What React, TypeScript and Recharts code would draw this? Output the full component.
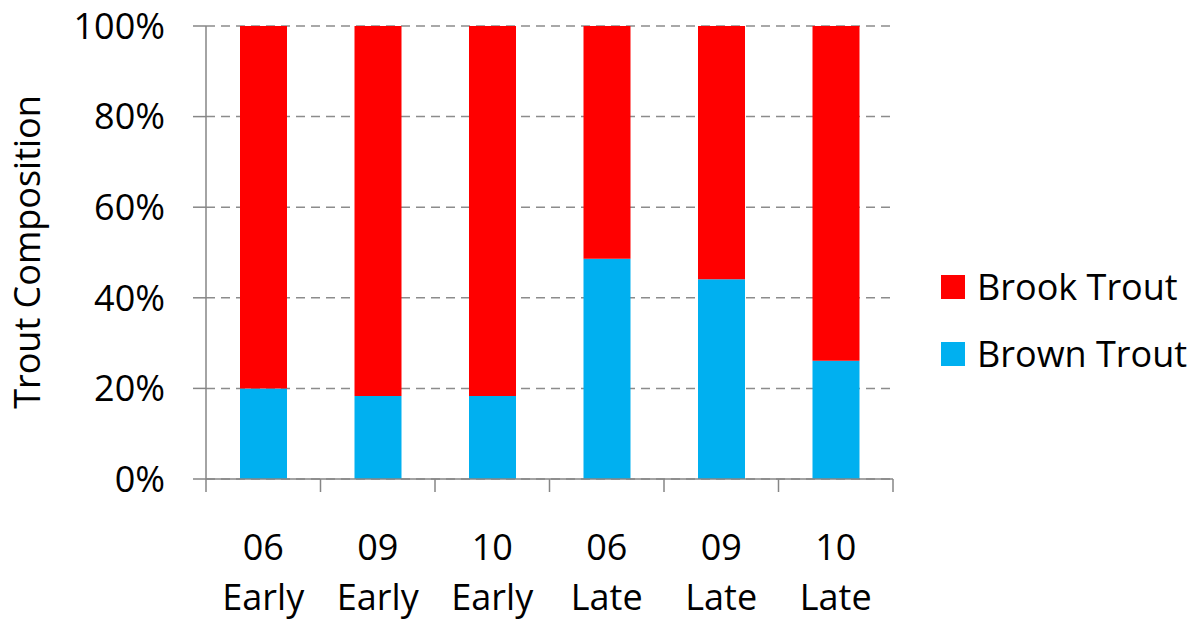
import React from 'react';
import { BarChart, Bar, XAxis, YAxis, CartesianGrid } from 'recharts';

const years = ['06', '09', '10', '06', '09', '10'];
const seasons = ['Early', 'Early', 'Early', 'Late', 'Late', 'Late'];
const brownTrout = [20, 18.3, 18.3, 48.6, 44.1, 26.1];
const brookTrout = brownTrout.map((v) => 100 - v);
const yTicks = [0, 20, 40, 60, 80, 100];

const series = [
  { key: 'brook', name: 'Brook Trout', color: '#FF0000' },
  { key: 'brown', name: 'Brown Trout', color: '#00B0F0' },
];

const WIDTH = 1203;
const HEIGHT = 621;
const MARGIN = { top: 26, right: 310, bottom: 0, left: 0 };
const Y_AXIS_W = 206;
const PLOT_W = WIDTH - MARGIN.left - MARGIN.right - Y_AXIS_W;
const FONT = '"Open Sans", "Liberation Sans", sans-serif';
const AXIS_COLOR = '#868686';

const data = years.map((y, i) => ({
  label: `${y}\n${seasons[i]}`,
  brown: brownTrout[i],
  brook: brookTrout[i],
}));

// ticks sit between categories (Excel style), labels at the centre
const XTick = (props: any) => {
  const { x, y, payload, index } = props;
  const band = PLOT_W / data.length;
  const [line1, line2] = String(payload.value).split('\n');
  return (
    <g>
      <line x1={x - band / 2} y1={y} x2={x - band / 2} y2={y + 13} stroke={AXIS_COLOR} strokeWidth={1.5} />
      {index === data.length - 1 && (
        <line x1={x + band / 2} y1={y} x2={x + band / 2} y2={y + 13} stroke={AXIS_COLOR} strokeWidth={1.5} />
      )}
      <text x={x} y={y + 81} textAnchor="middle" fontSize={36} fontFamily={FONT} fill="#000">
        {line1}
      </text>
      <text x={x} y={y + 131} textAnchor="middle" fontSize={36} fontFamily={FONT} fill="#000">
        {line2}
      </text>
    </g>
  );
};

const YLabel = () => (
  <text
    x={26}
    y={252}
    transform="rotate(-90 26 252)"
    textAnchor="middle"
    dominantBaseline="central"
    fontSize={36}
    fontFamily={FONT}
    fill="#000"
  >
    Trout Composition
  </text>
);

const App: React.FC = () => {
  return (
    <div style={{ position: 'absolute', left: 0, top: 0, width: WIDTH, height: HEIGHT, background: '#fff' }}>
      <BarChart width={WIDTH} height={HEIGHT} data={data} margin={MARGIN} barSize={47}>
        <CartesianGrid vertical={false} stroke="#8c8c8c" strokeWidth={1.5} strokeDasharray="9 6" />
        <XAxis
          dataKey="label"
          height={HEIGHT - 479}
          axisLine={{ stroke: AXIS_COLOR, strokeWidth: 1.5 }}
          tickLine={false}
          tickSize={0}
          tickMargin={0}
          interval={0}
          tick={<XTick />}
        />
        <YAxis
          width={Y_AXIS_W}
          domain={[0, 100]}
          ticks={yTicks}
          interval={0}
          tickFormatter={(v: number) => `${v}%`}
          axisLine={{ stroke: AXIS_COLOR, strokeWidth: 1.5 }}
          tickLine={{ stroke: AXIS_COLOR, strokeWidth: 1.5 }}
          tickSize={13}
          tickMargin={28}
          tick={{ fontSize: 36, fontFamily: FONT, fill: '#000' }}
          label={<YLabel />}
        />
        <Bar dataKey="brown" name="Brown Trout" stackId="a" fill="#00B0F0" isAnimationActive={false} />
        <Bar dataKey="brook" name="Brook Trout" stackId="a" fill="#FF0000" isAnimationActive={false} />
      </BarChart>
      <div style={{ position: 'absolute', left: 941, top: 253, fontFamily: FONT, fontSize: 36, color: '#000' }}>
        {series.map((s) => (
          <div key={s.key} style={{ display: 'flex', alignItems: 'center', height: 67 }}>
            <span style={{ width: 24, height: 24, background: s.color, display: 'inline-block', marginRight: 12 }} />
            <span style={{ lineHeight: '40px', whiteSpace: 'nowrap' }}>{s.name}</span>
          </div>
        ))}
      </div>
    </div>
  );
};

export default App;
